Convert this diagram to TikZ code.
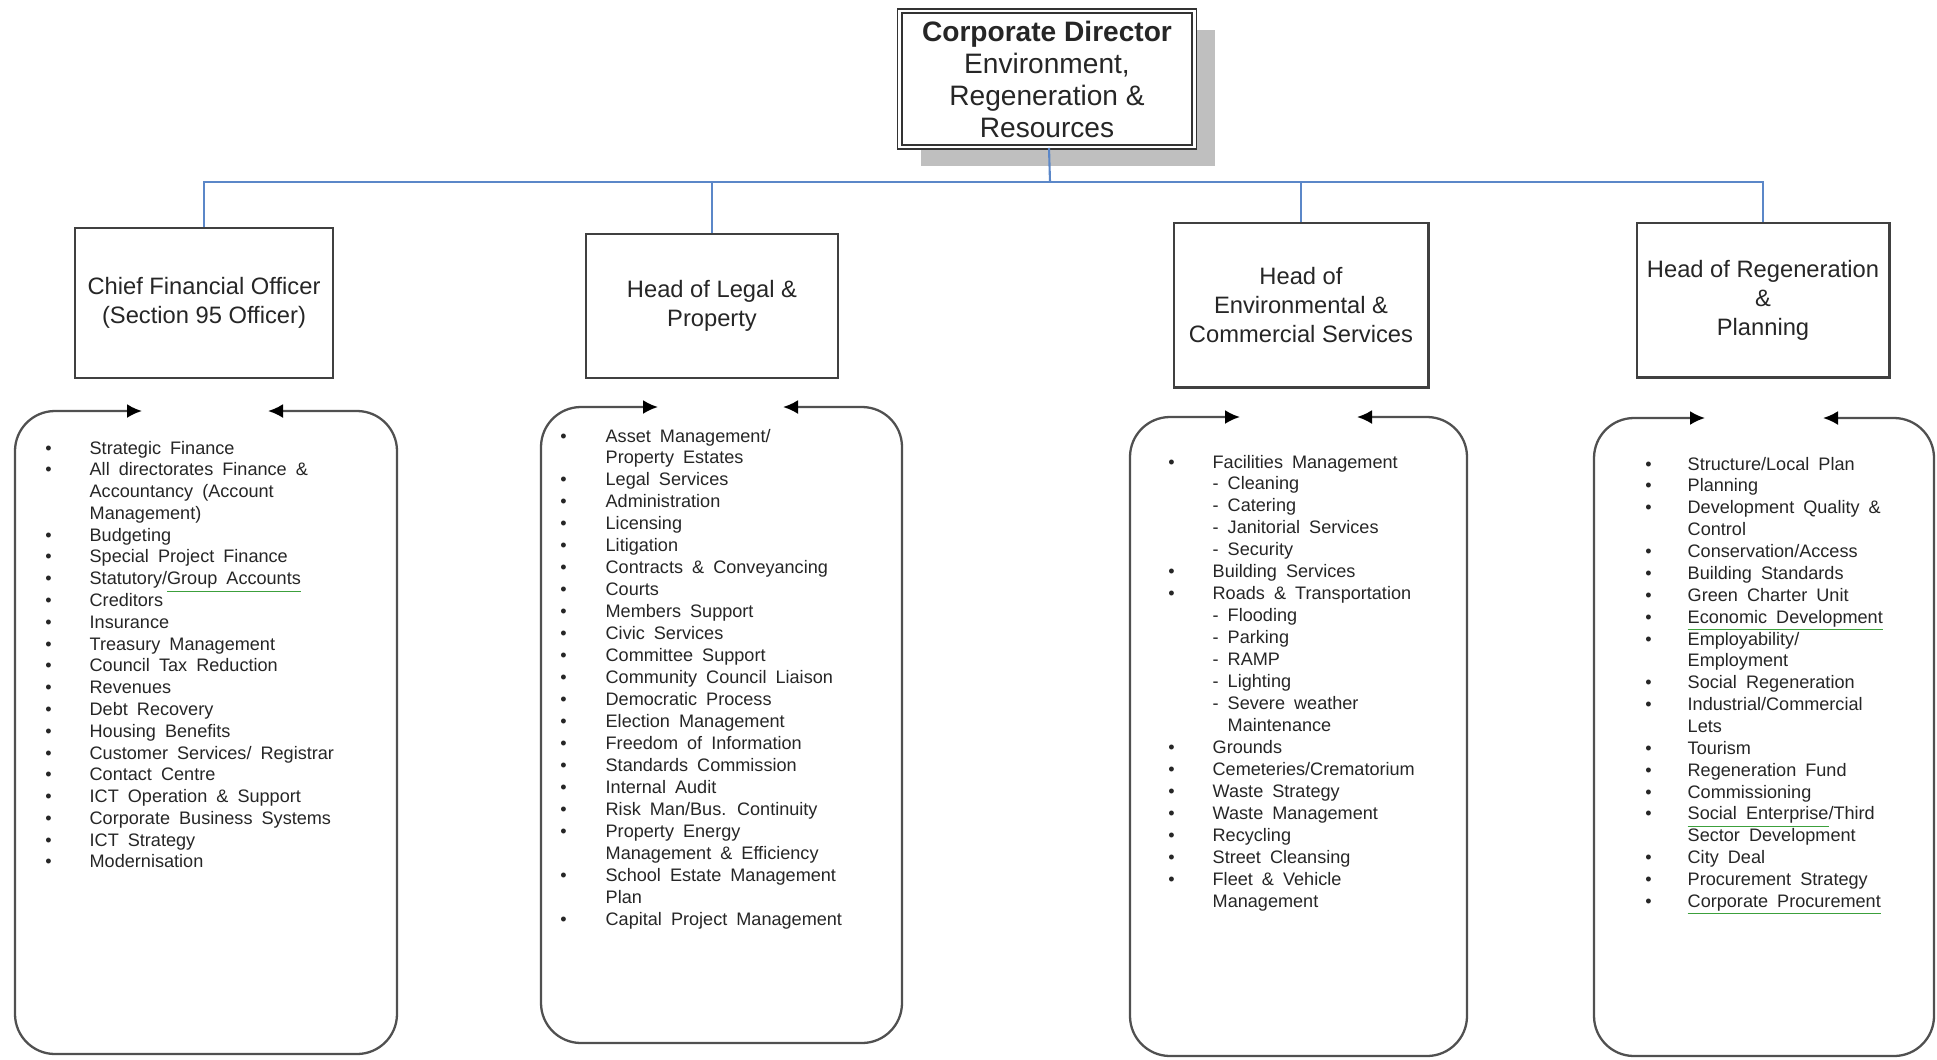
\documentclass[tikz,border=0pt]{standalone}
\usepackage{fontspec}
\setmainfont{Liberation Sans}
\usetikzlibrary{arrows.meta,shadows}
\definecolor{linkblue}{HTML}{5B87C8}
\definecolor{framegray}{HTML}{505050}
\definecolor{listink}{HTML}{262626}
\definecolor{spellgreen}{HTML}{3CA03C}
\newcommand{\spellmark}[1]{\smash{\color{spellgreen}\underline{\color{listink}#1}}}
\newcommand{\wordgap}{\spaceskip=0.5em\relax}
\begin{document}
\begin{tikzpicture}[x=0.02cm, y=-0.02cm,
	head/.style = {draw=black!75, fill=white, line width=1.15pt, align=center, inner sep=0pt, text=black!85, font=\fontsize{13.5}{16.5}\selectfont},
	top/.style = {draw=black!80, fill=white, double=white, double distance=1.6pt, line width=0.9pt, align=center, inner sep=0pt, text=black!85, font=\fontsize{16}{18.2}\selectfont, drop shadow={shadow xshift=0.42cm, shadow yshift=-0.38cm, fill=black!25, opacity=1}},
	list/.style = {anchor=base west, inner sep=0pt, text=listink, font=\fontsize{10.3}{12.4}\selectfont},
	frame/.style = {{Latex[length=3mm,width=2.8mm,color=black]}-{Latex[length=3mm,width=2.8mm,color=black]}, draw=framegray, line width=1.3pt, rounded corners=0.8cm},
	link/.style = {draw=linkblue, line width=1.2pt}]
		\fill[white] (0,0) rectangle (1937,1059);
		\useasboundingbox (0,0) rectangle (1937,1059);
		
		\node[top, minimum width=5.9cm, minimum height=2.72cm] (1) at (1047,79) {\textbf{Corporate Director}\\Environment,\\Regeneration \&\\Resources};
		\node[head, minimum width=5.16cm, minimum height=3.0cm] (2) at (204,303) {Chief Financial Officer\\(Section 95 Officer)};
		\node[head, minimum width=5.04cm, minimum height=2.88cm] (3) at (712,306) {Head of Legal \&\\Property};
		\node[head, minimum width=5.1cm, minimum height=3.3cm] (4) at (1301,305) {Head of\\Environmental \&\\Commercial Services};
		\node[head, minimum width=5.06cm, minimum height=3.1cm] (5) at (1763,300) {Head of Regeneration\\\&\\Planning};
		\coordinate (j) at (1050,182);
		
		\draw[link] (1) -- (j);
		\draw[link] (2.north) |- (j);
		\draw[link] (3.north) |- (j);
		\draw[link] (4.north) |- (j);
		\draw[link] (5.north) |- (j);
		
		\node[list] (6) at (45,454) {\wordgap\begin{tabular}[t]{@{}l@{\hspace{0.76cm}}l@{}}
			\textbullet & Strategic Finance\\
			\textbullet & All directorates Finance \&\\
			 & Accountancy (Account\\
			 & Management)\\
			\textbullet & Budgeting\\
			\textbullet & Special Project Finance\\
			\textbullet & Statutory/\spellmark{Group Accounts}\\
			\textbullet & Creditors\\
			\textbullet & Insurance\\
			\textbullet & Treasury Management\\
			\textbullet & Council Tax Reduction\\
			\textbullet & Revenues\\
			\textbullet & Debt Recovery\\
			\textbullet & Housing Benefits\\
			\textbullet & Customer Services/ Registrar\\
			\textbullet & Contact Centre\\
			\textbullet & ICT Operation \& Support\\
			\textbullet & Corporate Business Systems\\
			\textbullet & ICT Strategy\\
			\textbullet & Modernisation
		\end{tabular}};
		\node[list, font=\fontsize{10.3}{12.5}\selectfont] (7) at (560,442) {\wordgap\begin{tabular}[t]{@{}l@{\hspace{0.78cm}}l@{}}
			\textbullet & Asset Management/\\
			 & Property Estates\\
			\textbullet & Legal Services\\
			\textbullet & Administration\\
			\textbullet & Licensing\\
			\textbullet & Litigation\\
			\textbullet & Contracts \& Conveyancing\\
			\textbullet & Courts\\
			\textbullet & Members Support\\
			\textbullet & Civic Services\\
			\textbullet & Committee Support\\
			\textbullet & Community Council Liaison\\
			\textbullet & Democratic Process\\
			\textbullet & Election Management\\
			\textbullet & Freedom of Information\\
			\textbullet & Standards Commission\\
			\textbullet & Internal Audit\\
			\textbullet & Risk Man/Bus. Continuity\\
			\textbullet & Property Energy\\
			 & Management \& Efficiency\\
			\textbullet & School Estate Management\\
			 & Plan\\
			\textbullet & Capital Project Management
		\end{tabular}};
		\node[list, font=\fontsize{10.3}{12.5}\selectfont] (8) at (1168,468) {\wordgap\begin{tabular}[t]{@{}l@{\hspace{0.76cm}}l@{}}
			\textbullet & Facilities Management\\
			 & - Cleaning\\
			 & - Catering\\
			 & - Janitorial Services\\
			 & - Security\\
			\textbullet & Building Services\\
			\textbullet & Roads \& Transportation\\
			 & - Flooding\\
			 & - Parking\\
			 & - RAMP\\
			 & - Lighting\\
			 & - Severe weather\\
			 & \hspace{0.3cm}Maintenance\\
			\textbullet & Grounds\\
			\textbullet & Cemeteries/Crematorium\\
			\textbullet & Waste Strategy\\
			\textbullet & Waste Management\\
			\textbullet & Recycling\\
			\textbullet & Street Cleansing\\
			\textbullet & Fleet \& Vehicle\\
			 & Management
		\end{tabular}};
		\node[list, font=\fontsize{10.3}{12.45}\selectfont] (9) at (1645,470) {\wordgap\begin{tabular}[t]{@{}l@{\hspace{0.72cm}}l@{}}
			\textbullet & Structure/Local Plan\\
			\textbullet & Planning\\
			\textbullet & Development Quality \&\\
			 & Control\\
			\textbullet & Conservation/Access\\
			\textbullet & Building Standards\\
			\textbullet & Green Charter Unit\\
			\textbullet & \spellmark{Economic Development}\\
			\textbullet & Employability/\\
			 & Employment\\
			\textbullet & Social Regeneration\\
			\textbullet & Industrial/Commercial\\
			 & Lets\\
			\textbullet & Tourism\\
			\textbullet & Regeneration Fund\\
			\textbullet & Commissioning\\
			\textbullet & \spellmark{Social Enterprise}/Third\\
			 & Sector Development\\
			\textbullet & City Deal\\
			\textbullet & Procurement Strategy\\
			\textbullet & \spellmark{Corporate Procurement}
		\end{tabular}};
		
		\draw[frame] (142,411) -- (15,411) -- (15,1054) -- (397,1054) -- (397,411) -- (268,411);
		\draw[frame] (658,407) -- (541,407) -- (541,1043) -- (902,1043) -- (902,407) -- (783,407);
		\draw[frame] (1240,417) -- (1130,417) -- (1130,1056) -- (1467,1056) -- (1467,417) -- (1357,417);
		\draw[frame] (1705,418) -- (1594,418) -- (1594,1056) -- (1934,1056) -- (1934,418) -- (1823,418);
	\end{tikzpicture}
\end{document}
